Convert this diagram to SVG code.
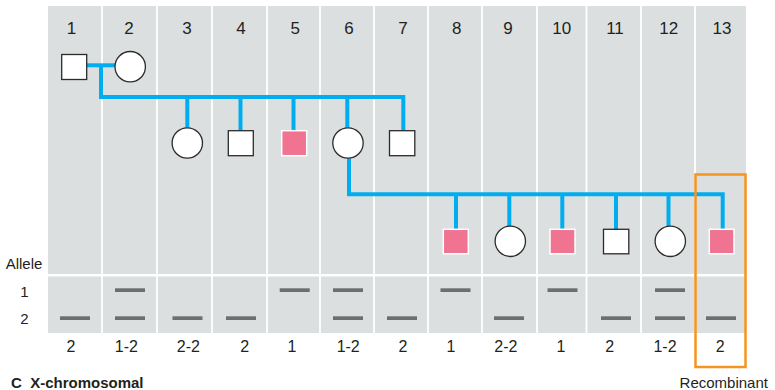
<svg xmlns="http://www.w3.org/2000/svg" width="775" height="390" viewBox="0 0 775 390">
<style>
.panel{fill:#dcdfe0}
.sep{stroke:#ffffff;stroke-width:1.8}
.line{fill:none;stroke:#00aeef;stroke-width:4;stroke-linejoin:miter;stroke-linecap:butt}
.m{fill:#ffffff;stroke:#2b2b2b;stroke-width:1.3}
.f{fill:#ffffff;stroke:#2b2b2b;stroke-width:1.3}
.a{fill:#f07491;stroke:#ffffff;stroke-width:1.5}
.bar{fill:#6d6e70}
.t{font-family:"Liberation Sans",Arial,sans-serif;fill:#231f20;text-anchor:middle}
.h{font-size:17px}
.b{font-size:16px}
.l{font-size:15px}
.rec{fill:none;stroke:#f7941e;stroke-width:2.5}
</style>

<g id="background">
<rect class="panel" x="48" y="6" width="698" height="268"/>
<rect class="panel" x="48" y="276.5" width="698" height="56.5"/>
<g id="separators">
<line class="sep" x1="102" y1="6" x2="102" y2="333"/>
<line class="sep" x1="157" y1="6" x2="157" y2="333"/>
<line class="sep" x1="212" y1="6" x2="212" y2="333"/>
<line class="sep" x1="267" y1="6" x2="267" y2="333"/>
<line class="sep" x1="320" y1="6" x2="320" y2="333"/>
<line class="sep" x1="374" y1="6" x2="374" y2="333"/>
<line class="sep" x1="428" y1="6" x2="428" y2="333"/>
<line class="sep" x1="482" y1="6" x2="482" y2="333"/>
<line class="sep" x1="537" y1="6" x2="537" y2="333"/>
<line class="sep" x1="586.5" y1="6" x2="586.5" y2="333"/>
<line class="sep" x1="641" y1="6" x2="641" y2="333"/>
<line class="sep" x1="695" y1="6" x2="695" y2="333"/>
</g>
</g>

<g id="header" class="t h">
<text x="71.5" y="34">1</text>
<text x="129" y="34">2</text>
<text x="187" y="34">3</text>
<text x="241" y="34">4</text>
<text x="295.3" y="34">5</text>
<text x="349" y="34">6</text>
<text x="403" y="34">7</text>
<text x="456.7" y="34">8</text>
<text x="508" y="34">9</text>
<text x="561.7" y="34">10</text>
<text x="615" y="34">11</text>
<text x="668.7" y="34">12</text>
<text x="722" y="34">13</text>
</g>

<g id="connectors">
<path class="line" d="M86.7,65.3 H115"/>
<path class="line" d="M101,65.3 V97 H403.3 V130.7"/>
<path class="line" d="M187.3,97 V127.7"/>
<path class="line" d="M240.5,97 V130.7"/>
<path class="line" d="M293.5,97 V130.7"/>
<path class="line" d="M347.3,97 V127.7"/>
<path class="line" d="M349,158.3 V194.2 H722.7 V229.3"/>
<path class="line" d="M456,194.2 V229.3"/>
<path class="line" d="M509.3,194.2 V226"/>
<path class="line" d="M562.3,194.2 V229.3"/>
<path class="line" d="M616,194.2 V229.3"/>
<path class="line" d="M668.5,194.2 V226"/>
</g>

<g id="node1"><rect class="m" x="61.7" y="54.5" width="25" height="25"/></g>
<g id="node2"><circle class="f" cx="130.2" cy="66.7" r="15.2"/></g>
<g id="node3"><circle class="f" cx="187.3" cy="143" r="15.2"/></g>
<g id="node4"><rect class="m" x="228.3" y="130.7" width="25" height="25"/></g>
<g id="node5"><rect class="a" x="281.7" y="130.7" width="25" height="25"/></g>
<g id="node6"><circle class="f" cx="348" cy="143" r="15.2"/></g>
<g id="node7"><rect class="m" x="389.5" y="130.7" width="25.3" height="25"/></g>
<g id="node8"><rect class="a" x="443.3" y="229.3" width="25" height="24.5"/></g>
<g id="node9"><circle class="f" cx="510.3" cy="241.3" r="15.2"/></g>
<g id="node10"><rect class="a" x="550" y="229.3" width="25" height="24.5"/></g>
<g id="node11"><rect class="m" x="603.5" y="229.3" width="25.3" height="24.5"/></g>
<g id="node12"><circle class="f" cx="670.3" cy="241.3" r="15.2"/></g>
<g id="node13"><rect class="a" x="709.3" y="229.3" width="24.7" height="24.5"/></g>

<g id="alleles">
<g class="t l">
<text x="24" y="269.3">Allele</text>
<text x="24.5" y="296.5">1</text>
<text x="24.5" y="323.5">2</text>
</g>
<rect class="bar" x="60" y="316.3" width="30" height="3.7"/>
<rect class="bar" x="115" y="288.3" width="30" height="3.7"/>
<rect class="bar" x="115" y="316.3" width="30" height="3.7"/>
<rect class="bar" x="172.5" y="316.3" width="30" height="3.7"/>
<rect class="bar" x="226" y="316.3" width="30" height="3.7"/>
<rect class="bar" x="279.7" y="288.3" width="30" height="3.7"/>
<rect class="bar" x="333" y="288.3" width="30" height="3.7"/>
<rect class="bar" x="333" y="316.3" width="30" height="3.7"/>
<rect class="bar" x="387" y="316.3" width="30" height="3.7"/>
<rect class="bar" x="440.5" y="288.3" width="30" height="3.7"/>
<rect class="bar" x="494" y="316.3" width="30" height="3.7"/>
<rect class="bar" x="547.5" y="288.3" width="30" height="3.7"/>
<rect class="bar" x="601" y="316.3" width="30" height="3.7"/>
<rect class="bar" x="655" y="288.3" width="30" height="3.7"/>
<rect class="bar" x="655" y="316.3" width="30" height="3.7"/>
<rect class="bar" x="706" y="316.3" width="30" height="3.7"/>
</g>

<g id="genotypes" class="t b">
<text x="71" y="351.5">2</text>
<text x="126.3" y="351.5">1-2</text>
<text x="188.3" y="351.5">2-2</text>
<text x="244.7" y="351.5">2</text>
<text x="292" y="351.5">1</text>
<text x="348.2" y="351.5">1-2</text>
<text x="403" y="351.5">2</text>
<text x="451" y="351.5">1</text>
<text x="505.8" y="351.5">2-2</text>
<text x="561" y="351.5">1</text>
<text x="609.7" y="351.5">2</text>
<text x="665" y="351.5">1-2</text>
<text x="720.3" y="351.5">2</text>
</g>

<g id="recombinant">
<rect class="rec" x="695.5" y="174.5" width="50" height="192.5"/>
<text class="t" x="723.8" y="388.3" font-size="15">Recombinant</text>
</g>

<text x="11" y="388" font-family="Liberation Sans, Arial, sans-serif" font-size="15" font-weight="bold" fill="#231f20" xml:space="preserve">C  X-chromosomal</text>
</svg>
